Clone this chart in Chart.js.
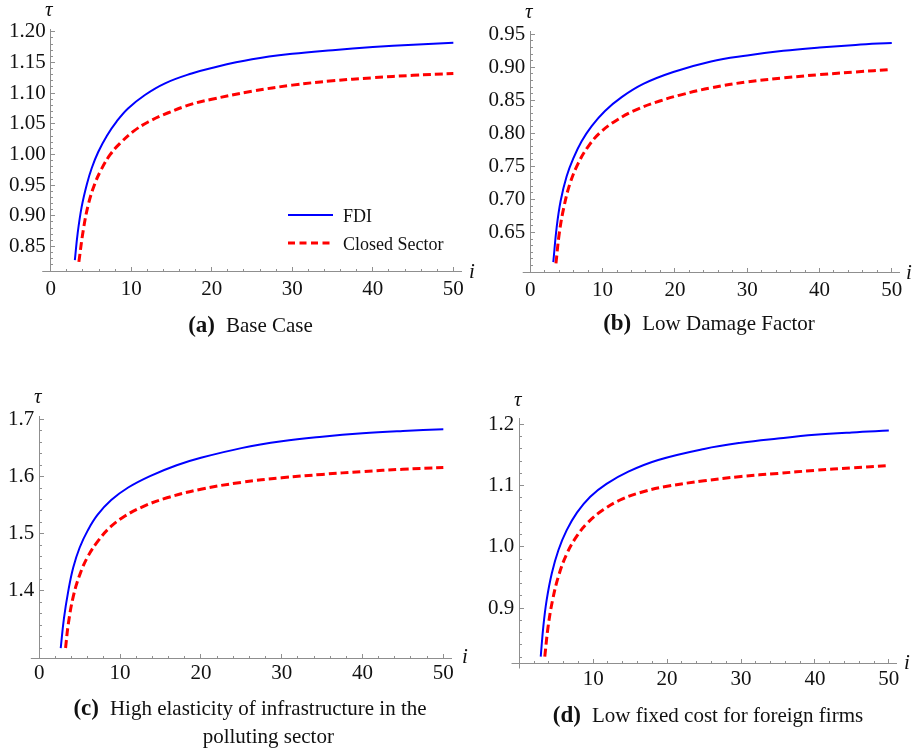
<!DOCTYPE html>
<html>
<head>
<meta charset="utf-8">
<title>Optimal tax vs i</title>
<script src="https://cdn.jsdelivr.net/npm/chart.js@4.4.1/dist/chart.umd.min.js"></script>
<style>
  html, body { margin: 0; padding: 0; background: #fff; }
  body {
    width: 917px; height: 749px; position: relative; overflow: hidden;
    font-family: "Liberation Serif", "Times New Roman", serif; color: #111;
  }
  canvas.panel { position: absolute; left: 0; top: 0; }
  .sym { position: absolute; font-style: italic; font-size: 21px; line-height: 21px; }
  .cap { position: absolute; font-size: 21px; line-height: 28px; white-space: nowrap;
         display: flex; justify-content: center; }
  .cap b { font-size: 23px; margin-right: 11px; }
  .cap .two { text-align: center; }
  .leg { position: absolute; font-size: 18px; line-height: 18px; white-space: nowrap; }
</style>
</head>
<body>
<canvas class="panel" id="chartA" width="917" height="749"></canvas>
<canvas class="panel" id="chartB" width="917" height="749"></canvas>
<canvas class="panel" id="chartC" width="917" height="749"></canvas>
<canvas class="panel" id="chartD" width="917" height="749"></canvas>

<!-- axis symbols -->
<div class="sym" style="left:45px;top:-1px">τ</div>
<div class="sym" style="left:469px;top:261px">i</div>
<div class="sym" style="left:525px;top:1px">τ</div>
<div class="sym" style="left:906px;top:262px">i</div>
<div class="sym" style="left:34px;top:386px">τ</div>
<div class="sym" style="left:462px;top:646px">i</div>
<div class="sym" style="left:514px;top:389px">τ</div>
<div class="sym" style="left:904px;top:652px">i</div>

<!-- legend of panel (a) -->
<svg style="position:absolute;left:286px;top:205px" width="50" height="45">
  <line x1="2" y1="10" x2="47" y2="10" stroke="#0000ff" stroke-width="2"/>
  <line x1="2" y1="38" x2="47" y2="38" stroke="#ff0000" stroke-width="3" stroke-dasharray="7,4.5"/>
</svg>
<div class="leg" style="left:343px;top:207px">FDI</div>
<div class="leg" style="left:343px;top:235px">Closed Sector</div>

<!-- captions -->
<div class="cap" style="left:0;width:501px;top:311px"><b>(a)</b><span>Base Case</span></div>
<div class="cap" style="left:459px;width:500px;top:309px"><b>(b)</b><span>Low Damage Factor</span></div>
<div class="cap" style="left:0;width:500px;top:694px"><b>(c)</b><span class="two">High elasticity of infrastructure in the<br>polluting sector</span></div>
<div class="cap" style="left:458px;width:500px;top:701px"><b>(d)</b><span>Low fixed cost for foreign firms</span></div>

<script>
// ---- data ----
// (a) Base Case
const fdiIA = [3.0, 3.35, 3.85, 4.5, 5.1, 5.9, 7.0, 8.2, 9.6, 11.7, 14.2, 17.5, 20, 25, 30, 35, 40, 45, 50];
const fdiTauA = [0.828, 0.872, 0.915, 0.952, 0.978, 1.004, 1.031, 1.054, 1.075, 1.097, 1.116, 1.132, 1.141, 1.155, 1.164, 1.170, 1.175, 1.179, 1.182];
const closedIA = [3.5, 4.05, 4.7, 5.5, 6.3, 7.4, 8.6, 10.3, 12.1, 14.6, 17.5, 20, 25, 30, 35, 40, 45, 50];
const closedTauA = [0.825, 0.877, 0.920, 0.953, 0.976, 1.000, 1.018, 1.038, 1.053, 1.068, 1.082, 1.090, 1.103, 1.113, 1.120, 1.125, 1.129, 1.132];

// (b) Low Damage Factor
const fdiIB = [3.18, 3.65, 4.2, 5.03, 5.95, 7.1, 8.49, 10.33, 12.64, 15.63, 19.78, 25, 30, 35, 40, 45, 50];
const fdiTauB = [0.605, 0.658, 0.698, 0.735, 0.762, 0.788, 0.811, 0.834, 0.855, 0.875, 0.893, 0.909, 0.918, 0.925, 0.930, 0.934, 0.937];
const closedIB = [3.55, 4.0, 4.66, 5.49, 6.64, 8.0, 9.64, 11.95, 14.7, 17.9, 20.7, 25, 30, 35, 40, 45, 50];
const closedTauB = [0.603, 0.648, 0.689, 0.724, 0.755, 0.780, 0.801, 0.820, 0.836, 0.849, 0.858, 0.869, 0.878, 0.884, 0.889, 0.893, 0.897];

// (c) High elasticity of infrastructure
const fdiIC = [2.65, 3.05, 3.6, 4.2, 5.0, 6.0, 7.2, 8.9, 11, 13.7, 17, 20, 25, 30, 35, 40, 45, 50];
const fdiTauC = [1.300, 1.352, 1.401, 1.441, 1.476, 1.506, 1.533, 1.559, 1.581, 1.601, 1.620, 1.633, 1.650, 1.662, 1.670, 1.676, 1.680, 1.683];
const closedIC = [3.25, 3.6, 4.2, 5.0, 6.0, 7.3, 8.8, 10.6, 12.9, 15.8, 20, 25, 30, 35, 40, 45, 50];
const closedTauC = [1.300, 1.343, 1.390, 1.428, 1.460, 1.488, 1.512, 1.531, 1.548, 1.563, 1.578, 1.590, 1.598, 1.604, 1.609, 1.613, 1.616];

// (d) Low fixed cost for foreign firms
const fdiID = [2.9, 3.25, 3.7, 4.4, 5.3, 6.4, 7.8, 9.6, 11.8, 14.75, 18.8, 25, 30, 35, 40, 45, 50];
const fdiTauD = [0.821, 0.870, 0.913, 0.957, 0.995, 1.027, 1.056, 1.082, 1.103, 1.123, 1.142, 1.160, 1.170, 1.177, 1.183, 1.187, 1.190];
const closedID = [3.45, 3.9, 4.5, 5.3, 6.4, 7.8, 9.3, 11.4, 13.9, 17, 20, 25, 30, 35, 40, 45, 50];
const closedTauD = [0.821, 0.870, 0.913, 0.952, 0.988, 1.018, 1.040, 1.061, 1.078, 1.091, 1.099, 1.108, 1.115, 1.120, 1.125, 1.129, 1.133];

// tick labels
const xTickLabels = ['0', '10', '20', '30', '40', '50'];
const xTickLabelsD = ['10', '20', '30', '40', '50'];
const yTickLabelsA = ['0.85', '0.90', '0.95', '1.00', '1.05', '1.10', '1.15', '1.20'];
const yTickLabelsB = ['0.65', '0.70', '0.75', '0.80', '0.85', '0.90', '0.95'];
const yTickLabelsC = ['1.4', '1.5', '1.6', '1.7'];
const yTickLabelsD = ['0.9', '1.0', '1.1', '1.2'];

const FONT = "'Liberation Serif', 'Times New Roman', serif";
const AXIS = '#8f8f8f';
const PAGE_W = 917, PAGE_H = 749;
const X_H = 30;

function points(xs, ys) {
    return xs.map((x, k) => ({ x: x, y: ys[k] }));
}

function alignPx(v) {
    return Math.round(v - 0.5) + 0.5;
}

// Mathematica-style ticks (pointing inwards, with minor ticks)
const axisDecor = {
    id: 'axisDecor',
    beforeDatasetsDraw(chart, args, o) {
        const { ctx, chartArea: a, scales: { x, y } } = chart;
        const by = alignPx(a.bottom);
        const bx = alignPx(a.left);
        ctx.save();
        ctx.strokeStyle = AXIS;
        ctx.lineWidth = 1;
        ctx.beginPath();
        // x axis continues a little to the left of the origin
        ctx.moveTo(x.getPixelForValue(o.xStart), by);
        ctx.lineTo(bx, by);
        if (o.yBelow) {
            ctx.moveTo(bx, by);
            ctx.lineTo(bx, by + o.yBelow);
        }
        // x ticks
        for (let k = 0; k * o.xMinor <= 50 + 1e-9; k++) {
            const px = alignPx(x.getPixelForValue(k * o.xMinor));
            const major = (k * o.xMinor) % 10 === 0;
            ctx.moveTo(px, by);
            ctx.lineTo(px, by - (major ? 4.5 : 2.5));
        }
        // y ticks
        const k0 = Math.ceil(y.min / o.yMinor - 1e-6);
        const k1 = Math.floor(y.max / o.yMinor + 1e-6);
        const majors = y.ticks.map(t => t.value);
        for (let k = k0; k <= k1; k++) {
            const v = k * o.yMinor;
            const py = alignPx(y.getPixelForValue(v));
            const major = majors.some(m => Math.abs(m - v) < 1e-6);
            ctx.moveTo(bx, py);
            ctx.lineTo(bx + (major ? 4.5 : 2.5), py);
        }
        ctx.stroke();
        ctx.restore();
    }
};

function makePanel(id, p) {
    const ctx = document.getElementById(id);
    const yW = p.area.left - 2;
    return new Chart(ctx, {
        type: 'line',
        data: {
            datasets: [
                {
                    label: 'FDI',
                    data: points(p.fdiI, p.fdiTau),
                    borderColor: '#0000ff',
                    borderWidth: 2,
                    pointRadius: 0,
                    tension: 0.4,
                    fill: false
                },
                {
                    label: 'Closed Sector',
                    data: points(p.closedI, p.closedTau),
                    borderColor: '#ff0000',
                    borderWidth: 3,
                    borderDash: [8, 4],
                    pointRadius: 0,
                    tension: 0.4,
                    fill: false
                }
            ]
        },
        options: {
            responsive: false,
            animation: false,
            events: [],
            layout: {
                padding: {
                    left: p.area.left - yW,
                    right: PAGE_W - p.area.right,
                    top: p.area.top,
                    bottom: PAGE_H - p.area.bottom - X_H
                }
            },
            plugins: {
                legend: { display: false },
                tooltip: { enabled: false },
                axisDecor: { xStart: -1.05, xMinor: 2, yMinor: p.yMinor, yBelow: p.yBelow || 0 }
            },
            scales: {
                x: {
                    type: 'linear',
                    min: 0,
                    max: 51,
                    afterBuildTicks: s => { s.ticks = p.xLabels.map(t => ({ value: Number(t) })); },
                    afterFit: s => { s.height = X_H; },
                    grid: { display: false, drawTicks: false },
                    border: { display: true, color: AXIS, width: 1 },
                    ticks: {
                        autoSkip: false,
                        maxRotation: 0,
                        padding: p.xPad,
                        color: '#111',
                        font: { family: FONT, size: 21 },
                        callback: (v, i) => p.xLabels[i]
                    }
                },
                y: {
                    type: 'linear',
                    min: p.yMin,
                    max: p.yMax,
                    afterBuildTicks: s => { s.ticks = p.yLabels.map(t => ({ value: Number(t) })); },
                    afterFit: s => { s.width = yW; },
                    grid: { display: false, drawTicks: false },
                    border: { display: true, color: AXIS, width: 1 },
                    ticks: {
                        autoSkip: false,
                        padding: 5,
                        color: '#111',
                        font: { family: FONT, size: 21 },
                        callback: (v, i) => p.yLabels[i]
                    }
                }
            }
        },
        plugins: [axisDecor]
    });
}

function initCharts() {
    if (typeof Chart === 'undefined') {
        console.error('Chart.js is not loaded');
        return;
    }
    makePanel('chartA', {
        fdiI: fdiIA, fdiTau: fdiTauA, closedI: closedIA, closedTau: closedTauA,
        xLabels: xTickLabels, yLabels: yTickLabelsA,
        yMin: 0.809, yMax: 1.203, yMinor: 0.01, xPad: 5,
        area: { left: 50.7, right: 461.4, top: 29.9, bottom: 271.7 }
    });
    makePanel('chartB', {
        fdiI: fdiIB, fdiTau: fdiTauB, closedI: closedIB, closedTau: closedTauB,
        xLabels: xTickLabels, yLabels: yTickLabelsB,
        yMin: 0.589, yMax: 0.954, yMinor: 0.01, xPad: 5,
        area: { left: 530.3, right: 899.0, top: 31.7, bottom: 272.7 }
    });
    makePanel('chartC', {
        fdiI: fdiIC, fdiTau: fdiTauC, closedI: closedIC, closedTau: closedTauC,
        xLabels: xTickLabels, yLabels: yTickLabelsC,
        yMin: 1.282, yMax: 1.705, yMinor: 0.02, xPad: 3,
        area: { left: 39.3, right: 451.4, top: 416.7, bottom: 658.3 }
    });
    makePanel('chartD', {
        fdiI: fdiID, fdiTau: fdiTauD, closedI: closedID, closedTau: closedTauD,
        xLabels: xTickLabelsD, yLabels: yTickLabelsD,
        yMin: 0.810, yMax: 1.210, yMinor: 0.02, yBelow: 5, xPad: 4,
        area: { left: 519.3, right: 896.2, top: 418.3, bottom: 663.3 }
    });
}

document.addEventListener('DOMContentLoaded', initCharts);
</script>
</body>
</html>
